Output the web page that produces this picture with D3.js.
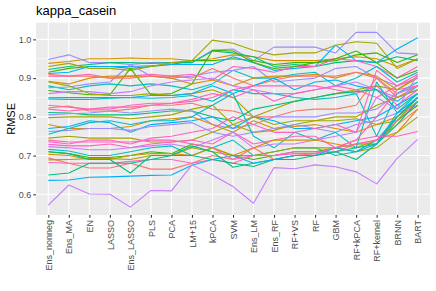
<!DOCTYPE html>
<html><head><meta charset="utf-8">
<script src="https://cdn.jsdelivr.net/npm/d3@7"></script>
<style>body{margin:0;background:#fff}svg{display:block}text{font-family:"Liberation Sans",Arial,sans-serif}</style>
</head><body><svg id="c" width="436" height="291"></svg>
<script>
const title = "kappa_casein";
const yLabel = "RMSE";
const categories = ["Ens_nonneg","Ens_MA","EN","LASSO","Ens_LASSO","PLS","PCA","LM+15","kPCA","SVM","Ens_LM","Ens_RF","RF+VS","RF","GBM","RF+kPCA","RF+kernel","BRNN","BART"];
const yTicks = [0.6,0.7,0.8,0.9,1.0];
const groupNames = ["A","B","C","D","E","F","G","H","I","J"];
const palette = ["#F8766D","#D89000","#A3A500","#39B600","#00BF7D","#00BFC4","#00B0F6","#9D8CFF","#C77CFF","#FF62BC"];
const seriesGroup = ["H","B","D","E","G","C","J","D","F","H","B","A","C","G","F","I","J","A","J","E","H","C","B","G","H","F","C","J","J","I","F","D","B","A","C","J","E","E","G","I","J"];
const seriesValues = [
 [0.948,0.960,0.940,0.940,0.935,0.940,0.940,0.940,0.972,0.975,0.945,0.980,0.980,0.980,0.965,1.018,1.018,0.965,0.962],
 [0.938,0.943,0.950,0.950,0.952,0.950,0.950,0.945,0.950,0.960,0.955,0.945,0.945,0.945,0.950,0.955,0.950,0.930,0.950],
 [0.915,0.925,0.930,0.930,0.925,0.930,0.935,0.945,0.945,0.950,0.945,0.935,0.940,0.940,0.945,0.960,0.965,0.940,0.960],
 [0.922,0.930,0.935,0.940,0.940,0.938,0.940,0.940,0.970,0.965,0.955,0.930,0.935,0.930,0.940,0.945,0.940,0.955,0.945],
 [0.912,0.915,0.930,0.930,0.930,0.932,0.935,0.935,0.935,0.955,0.940,0.920,0.925,0.930,0.985,0.945,0.940,0.975,1.004],
 [0.930,0.938,0.925,0.925,0.920,0.930,0.940,0.945,0.998,0.990,0.972,0.960,0.965,0.965,0.985,0.994,0.990,0.925,0.950],
 [0.905,0.905,0.910,0.900,0.905,0.910,0.905,0.910,0.895,0.930,0.925,0.915,0.930,0.930,0.950,0.945,0.930,0.900,0.930],
 [0.868,0.862,0.857,0.857,0.925,0.857,0.860,0.885,0.972,0.970,0.940,0.925,0.930,0.940,0.950,0.970,0.940,0.900,0.920],
 [0.880,0.870,0.880,0.885,0.880,0.885,0.880,0.870,0.885,0.920,0.900,0.900,0.910,0.915,0.880,0.900,0.930,0.890,0.915],
 [0.875,0.877,0.885,0.890,0.935,0.905,0.900,0.905,0.915,0.920,0.930,0.890,0.895,0.900,0.925,0.930,0.900,0.880,0.900],
 [0.892,0.885,0.900,0.905,0.905,0.905,0.900,0.885,0.895,0.880,0.900,0.905,0.905,0.910,0.900,0.915,0.905,0.870,0.905],
 [0.910,0.905,0.905,0.900,0.900,0.905,0.905,0.900,0.925,0.900,0.880,0.895,0.905,0.905,0.905,0.915,0.900,0.860,0.880],
 [0.890,0.880,0.860,0.855,0.855,0.860,0.855,0.860,0.870,0.850,0.800,0.820,0.840,0.850,0.860,0.870,0.880,0.870,0.900],
 [0.849,0.850,0.850,0.850,0.850,0.855,0.855,0.860,0.880,0.860,0.880,0.900,0.870,0.890,0.895,0.880,0.870,0.840,0.880],
 [0.846,0.845,0.845,0.848,0.850,0.848,0.850,0.855,0.840,0.870,0.860,0.860,0.850,0.845,0.850,0.860,0.750,0.860,0.890],
 [0.860,0.865,0.865,0.860,0.865,0.880,0.890,0.895,0.900,0.880,0.870,0.860,0.860,0.870,0.880,0.890,0.870,0.850,0.870],
 [0.830,0.825,0.820,0.825,0.825,0.830,0.835,0.845,0.860,0.850,0.870,0.840,0.860,0.870,0.880,0.870,0.850,0.880,0.910],
 [0.823,0.828,0.815,0.815,0.820,0.830,0.830,0.835,0.820,0.815,0.800,0.800,0.815,0.820,0.820,0.830,0.900,0.850,0.880],
 [0.820,0.815,0.820,0.820,0.830,0.835,0.835,0.840,0.850,0.870,0.880,0.880,0.880,0.880,0.870,0.860,0.880,0.830,0.870],
 [0.811,0.810,0.805,0.805,0.805,0.810,0.815,0.815,0.800,0.790,0.820,0.830,0.840,0.850,0.860,0.865,0.870,0.820,0.860],
 [0.805,0.808,0.810,0.815,0.810,0.815,0.820,0.815,0.780,0.770,0.780,0.800,0.800,0.800,0.810,0.810,0.820,0.860,0.880],
 [0.798,0.800,0.800,0.800,0.795,0.800,0.805,0.820,0.830,0.780,0.760,0.765,0.780,0.790,0.790,0.795,0.780,0.790,0.850],
 [0.780,0.770,0.770,0.770,0.775,0.790,0.795,0.800,0.780,0.760,0.790,0.770,0.775,0.780,0.770,0.760,0.780,0.800,0.840],
 [0.770,0.775,0.790,0.785,0.760,0.780,0.785,0.790,0.800,0.770,0.800,0.790,0.770,0.770,0.780,0.790,0.800,0.830,0.860],
 [0.762,0.765,0.770,0.770,0.765,0.775,0.780,0.785,0.760,0.750,0.760,0.770,0.780,0.770,0.760,0.780,0.790,0.810,0.830],
 [0.755,0.770,0.785,0.790,0.780,0.790,0.790,0.800,0.830,0.860,0.750,0.720,0.760,0.740,0.760,0.720,0.890,0.810,0.860],
 [0.745,0.750,0.745,0.745,0.745,0.735,0.735,0.740,0.760,0.780,0.800,0.780,0.790,0.790,0.800,0.800,0.830,0.850,0.870],
 [0.736,0.730,0.740,0.740,0.730,0.745,0.750,0.760,0.770,0.800,0.780,0.760,0.760,0.770,0.780,0.760,0.920,0.880,0.900],
 [0.729,0.725,0.725,0.730,0.720,0.730,0.735,0.740,0.730,0.760,0.730,0.740,0.750,0.750,0.720,0.740,0.800,0.870,0.880],
 [0.723,0.720,0.715,0.715,0.720,0.725,0.730,0.720,0.740,0.760,0.720,0.730,0.730,0.740,0.750,0.760,0.850,0.820,0.910],
 [0.716,0.712,0.700,0.700,0.710,0.720,0.725,0.700,0.720,0.740,0.700,0.710,0.720,0.720,0.700,0.710,0.740,0.800,0.850],
 [0.710,0.705,0.695,0.695,0.700,0.710,0.705,0.730,0.720,0.700,0.690,0.700,0.710,0.710,0.720,0.730,0.730,0.790,0.830],
 [0.703,0.700,0.690,0.690,0.700,0.705,0.705,0.700,0.720,0.700,0.720,0.740,0.740,0.740,0.730,0.720,0.740,0.760,0.820],
 [0.694,0.680,0.668,0.668,0.680,0.665,0.665,0.680,0.700,0.690,0.720,0.690,0.700,0.705,0.720,0.730,0.740,0.780,0.820],
 [0.689,0.690,0.692,0.692,0.690,0.700,0.700,0.720,0.710,0.700,0.700,0.710,0.720,0.720,0.720,0.710,0.720,0.760,0.800],
 [0.682,0.680,0.680,0.680,0.685,0.690,0.690,0.680,0.690,0.680,0.700,0.700,0.710,0.710,0.710,0.730,0.740,0.790,0.840],
 [0.710,0.705,0.690,0.690,0.655,0.700,0.700,0.725,0.710,0.670,0.680,0.690,0.700,0.700,0.710,0.690,0.730,0.800,0.850],
 [0.650,0.655,0.680,0.680,0.680,0.690,0.700,0.700,0.690,0.680,0.672,0.690,0.690,0.700,0.710,0.720,0.730,0.780,0.840],
 [0.636,0.637,0.644,0.645,0.647,0.649,0.650,0.675,0.690,0.700,0.680,0.690,0.700,0.700,0.720,0.710,0.730,0.810,0.850],
 [0.572,0.624,0.601,0.600,0.567,0.610,0.609,0.676,0.650,0.620,0.577,0.669,0.666,0.676,0.671,0.658,0.627,0.693,0.742],
 [0.740,0.735,0.735,0.735,0.735,0.740,0.740,0.730,0.720,0.690,0.700,0.700,0.705,0.705,0.720,0.740,0.750,0.750,0.762]
];

const svg = d3.select("#c");
const m = {l:36, r:6, t:22.7, b:76};
const W = 436, H = 291;
const x = d3.scalePoint().domain(categories).range([m.l, W-m.r]).padding(0.6);
const y = d3.scaleLinear().domain([0.5466, 1.043]).range([H-m.b, m.t]);

svg.append("text").attr("x", m.l).attr("y", 15).attr("font-size", 13).attr("fill", "#000").text(title);

const g = svg.append("g");
g.append("rect").attr("x", m.l).attr("y", m.t).attr("width", W-m.r-m.l).attr("height", H-m.b-m.t).attr("fill", "#EBEBEB");
// minor grid
const minor = yTicks.slice(0,-1).map(v => v + 0.05);
g.selectAll(".mn").data(minor).join("line")
  .attr("x1", m.l).attr("x2", W-m.r).attr("y1", d=>y(d)).attr("y2", d=>y(d))
  .attr("stroke", "#fff").attr("stroke-width", 0.55);
g.selectAll(".mj").data(yTicks).join("line")
  .attr("x1", m.l).attr("x2", W-m.r).attr("y1", d=>y(d)).attr("y2", d=>y(d))
  .attr("stroke", "#fff").attr("stroke-width", 1.1);
g.selectAll(".vg").data(categories).join("line")
  .attr("x1", d=>x(d)).attr("x2", d=>x(d)).attr("y1", m.t).attr("y2", H-m.b)
  .attr("stroke", "#fff").attr("stroke-width", 1.1);

const color = d3.scaleOrdinal().domain(groupNames).range(palette);
const line = d3.line().x((d,i)=>x(categories[i])).y(d=>y(d));
g.selectAll(".ln").data(seriesValues).join("path")
  .attr("d", line).attr("fill", "none")
  .attr("stroke", (d,i)=>color(seriesGroup[i])).attr("stroke-width", 1.1)
  .attr("stroke-linejoin", "round");

// axes
const ya = svg.append("g").attr("transform", `translate(${m.l},0)`)
  .call(d3.axisLeft(y).tickValues(yTicks).tickFormat(d3.format(".1f")).tickSize(2.7).tickPadding(2));
const xa = svg.append("g").attr("transform", `translate(0,${H-m.b})`)
  .call(d3.axisBottom(x).tickSize(2.7).tickPadding(2));
[ya, xa].forEach(a => {
  a.select(".domain").remove();
  a.selectAll(".tick line").attr("stroke", "#333").attr("stroke-width", 1.05);
  a.selectAll(".tick text").attr("fill", "#4D4D4D").attr("font-size", 9).attr("font-family", "Liberation Sans, Arial, sans-serif");
});
xa.selectAll(".tick text")
  .attr("transform", "rotate(-90)").attr("text-anchor", "end")
  .attr("x", -5).attr("y", 0).attr("dy", "0.35em");

svg.append("text").attr("transform", `translate(15,${(m.t + H - m.b)/2}) rotate(-90)`)
  .attr("text-anchor", "middle").attr("font-size", 11).attr("fill", "#000").text(yLabel);
</script></body></html>
